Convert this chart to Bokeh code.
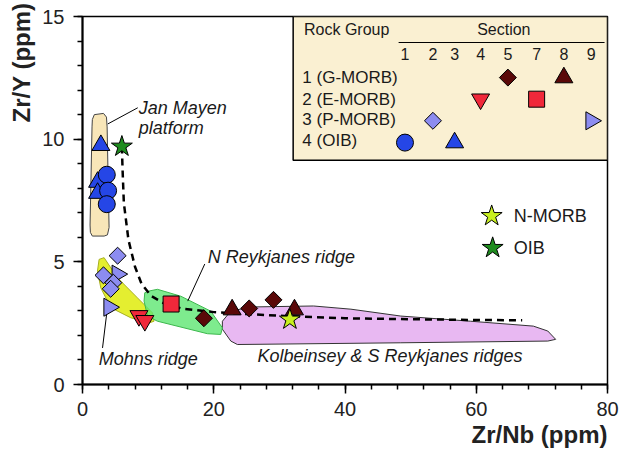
import numpy as np
from bokeh.plotting import figure
from bokeh.models import FixedTicker, Range1d, Title
from bokeh.embed import file_html
from bokeh.resources import INLINE
from bokeh.core.properties import value

# ---------------- data (Zr/Nb on x, Zr/Y on y) ----------------
sec1_x = [3.7, 3.9, 3.7]
sec1_y = [8.55, 7.9, 7.35]
sec2_x = [5.35, 3.2, 4.7, 4.3]
sec2_y = [5.25, 4.45, 4.15, 3.9]
sec3_x = [2.8, 2.3, 2.3]
sec3_y = [9.75, 8.25, 7.8]
sec4_x = [8.6, 9.5]
sec4_y = [2.8, 2.6]
sec5_x = [18.5, 25.4, 29.1]
sec5_y = [2.7, 3.1, 3.45]
sec7_x = [13.5]
sec7_y = [3.28]
sec8_x = [22.8, 32.3]
sec8_y = [3.05, 3.05]
sec9_x = [5.3, 4.05]
sec9_y = [4.5, 3.15]

nmorb_x = [31.6]
nmorb_y = [2.65]
oib_x = [6.0]
oib_y = [9.7]

trend_x = [6.0, 6.1, 6.3, 7.0, 8.0, 9.0, 10.5, 12.5, 15.0, 20.0, 30.0, 40.0, 50.0, 60.0, 67.0]
trend_y = [9.7, 8.8, 7.4, 5.9, 4.8, 4.1, 3.6, 3.3, 3.1, 2.95, 2.8, 2.7, 2.66, 2.63, 2.62]

janmayen_x = [1.5, 1.8, 3.2, 3.65, 3.75, 4.05, 3.8, 3.3, 1.5, 1.2, 1.15, 1.45]
janmayen_y = [10.8, 11.0, 11.05, 10.9, 10.5, 6.4, 6.1, 6.05, 6.05, 6.2, 6.5, 10.5]

mohns_x = [2.53, 3.29, 5.33, 8.38, 10.66, 10.9, 10.14, 7.36, 4.31, 2.79, 2.28]
mohns_y = [5.10, 5.17, 4.35, 3.53, 2.92, 2.58, 2.51, 2.72, 3.13, 3.94, 4.62]

nreyk_x = [10.14, 11.42, 14.97, 19.54, 21.32, 21.06, 19.04, 11.42, 9.9, 9.38, 9.49]
nreyk_y = [3.81, 3.88, 3.60, 2.99, 2.31, 2.04, 2.07, 2.58, 2.79, 3.40, 3.74]

kolb_x = [21.32, 22.59, 25.6, 35.2, 40.9, 48.5, 59.1, 68.7, 70.9, 72.1, 70.9, 48.5, 23.6, 22.6, 21.3]
kolb_y = [2.58, 2.99, 3.16, 3.20, 3.07, 2.79, 2.58, 2.38, 2.18, 1.84, 1.77, 1.70, 1.63, 1.77, 2.26]

sections = ["1", "2", "3", "4", "5", "7", "8", "9"]
rock_groups = ["1 (G-MORB)", "2 (E-MORB)", "3 (P-MORB)", "4 (OIB)"]
x_ticks = [0, 20, 40, 60, 80]
y_ticks = [0, 5, 10, 15]

# ---------------- styles ----------------
BLUE = "#2546E6"
LAV = "#8C8CF0"
RED = "#F0283A"
DRED = "#5A0808"
FONT = "Liberation Sans"

p = figure(frame_width=525, frame_height=368, output_backend="svg", toolbar_location=None,
           x_range=Range1d(0, 80), y_range=Range1d(0, 15),
           min_border_left=82, min_border_right=20, min_border_top=16, min_border_bottom=71,
           background_fill_color="white", border_fill_color="white")
p.grid.visible = False
p.outline_line_color = "black"
p.outline_line_width = 1.5

p.xaxis.ticker = FixedTicker(ticks=x_ticks, minor_ticks=list(range(0, 81, 4)))
p.yaxis.ticker = FixedTicker(ticks=y_ticks, minor_ticks=list(range(0, 16, 1)))
for ax in (p.xaxis[0], p.yaxis[0]):
    ax.axis_line_width = 2
    ax.major_tick_in = 0
    ax.major_tick_out = 9
    ax.minor_tick_in = 0
    ax.minor_tick_out = 5
    ax.major_tick_line_width = 1.5
    ax.minor_tick_line_width = 1.5
    ax.major_label_text_font = FONT
    ax.major_label_text_font_size = "20px"
    ax.major_label_text_color = "#222222"
p.xaxis.major_label_standoff = 8
p.yaxis.major_label_standoff = 9

# axis titles
p.add_layout(Title(text="Zr/Nb (ppm)", align="right", text_font=FONT, text_font_size="24px",
                   text_font_style="bold", text_color="#222222", standoff=0, offset=0), "below")
p.add_layout(Title(text="Zr/Y (ppm)", align="right", text_font=FONT, text_font_size="24px",
                   text_font_style="bold", text_color="#222222", standoff=9, offset=-14), "left")

# ---------------- regions ----------------
p.patch(kolb_x, kolb_y, fill_color="#E8B8F2", line_color="#333333", line_width=1)
p.patch(mohns_x, mohns_y, fill_color="#E4EE30", line_color="#A8B020", line_width=1)
p.patch(nreyk_x, nreyk_y, fill_color="#5EE672", fill_alpha=0.8, line_color="#3EB84E", line_width=1)
p.patch(janmayen_x, janmayen_y, fill_color="#F8E6B8", line_color="#444444", line_width=1)

p.line(trend_x, trend_y, line_color="black", line_width=2.5, line_dash="7 5")

# leader lines
p.line([3.85, 8.42], [10.62, 11.28], line_color="black", line_width=1)
p.line([18.63, 16.04], [4.91, 3.4], line_color="black", line_width=1)
p.line([3.05, 3.7], [1.49, 2.92], line_color="black", line_width=1)

# ---------------- legend box ----------------
p.quad(left=32.1, right=80, bottom=9.14, top=15, fill_color="#FAF0D2", line_color="black", line_width=1.5)
p.line([48.17, 79.55], [13.94, 13.94], line_color="black", line_width=1)

# ---------------- markers ----------------
def draw_section(xs, ys, key):
    kw = dict(line_color="black", line_width=1)
    if key == "1":
        p.scatter(xs, ys, marker="circle", size=17, fill_color=BLUE, **kw)
    elif key == "2":
        p.scatter(xs, ys, marker="square", angle=np.pi / 4, size=12, fill_color=LAV, **kw)
    elif key == "3":
        p.scatter(xs, ys, marker="triangle", size=18, fill_color=BLUE, **kw)
    elif key == "4":
        p.scatter(xs, ys, marker="inverted_triangle", size=18, fill_color=RED, **kw)
    elif key == "5":
        p.scatter(xs, ys, marker="square", angle=np.pi / 4, size=12, fill_color=DRED, **kw)
    elif key == "7":
        p.scatter(xs, ys, marker="square", size=16, fill_color=RED, **kw)
    elif key == "8":
        p.scatter(xs, ys, marker="triangle", size=18, fill_color=DRED, **kw)
    elif key == "9":
        p.scatter(xs, ys, marker="triangle", angle=-np.pi / 2, size=18, fill_color=LAV, **kw)

draw_section(sec9_x, sec9_y, "9")
draw_section(sec2_x, sec2_y, "2")
draw_section(sec3_x, sec3_y, "3")
draw_section(sec1_x, sec1_y, "1")
draw_section(sec4_x, sec4_y, "4")
draw_section(sec7_x, sec7_y, "7")
draw_section(sec8_x, sec8_y, "8")
draw_section(sec5_x, sec5_y, "5")

p.scatter(oib_x, oib_y, marker="star", size=22, fill_color="#1E8C1E", line_color="black", line_width=1)
p.scatter(nmorb_x, nmorb_y, marker="star", size=22, fill_color="#C8F020", line_color="black", line_width=1)

# legend markers
sec_x_pos = [49.14, 53.4, 56.7, 60.66, 64.82, 69.2, 73.35, 77.5]
row_y = {"1": 9.86, "2": 10.75, "3": 9.86, "4": 11.63, "5": 12.51, "7": 11.63, "8": 12.51, "9": 10.75}
for sx, key in zip(sec_x_pos, sections):
    draw_section([sx], [row_y[key]], key)

p.scatter([62.35], [6.87], marker="star", size=22, fill_color="#C8F020", line_color="black", line_width=1)
p.scatter([62.5], [5.57], marker="star", size=22, fill_color="#1E8C1E", line_color="black", line_width=1)

# ---------------- texts ----------------
tkw = dict(text_font=value(FONT), text_color="#1a1a1a", text_baseline="middle")
p.text(x=[33.75], y=[14.49], text=["Rock Group"], text_font_size="16px", text_align="left", **tkw)
p.text(x=[64.2], y=[14.49], text=["Section"], text_font_size="16px", text_align="center", **tkw)
p.text(x=sec_x_pos, y=[13.47] * len(sections), text=sections, text_font_size="16px", text_align="center", **tkw)
p.text(x=[33.5] * 4, y=[12.51, 11.63, 10.82, 9.96], text=rock_groups, text_font_size="17px", text_align="left", **tkw)
p.text(x=[65.7, 65.7], y=[6.87, 5.57], text=["N-MORB", "OIB"], text_font_size="18px", text_align="left", **tkw)

ikw = dict(text_font=value(FONT), text_color="#1a1a1a", text_baseline="middle",
           text_font_style="italic", text_font_size="18px", text_align="left")
p.text(x=[8.57, 8.57], y=[11.28, 10.47], text=["Jan Mayen", "platform"], **ikw)
p.text(x=[19.1], y=[5.2], text=["N Reykjanes ridge"], **ikw)
p.text(x=[2.48], y=[1.03], text=["Mohns ridge"], **ikw)
p.text(x=[26.65], y=[1.16], text=["Kolbeinsey & S Reykjanes ridges"], **ikw)

open("out.html", "w").write(file_html(p, INLINE))
